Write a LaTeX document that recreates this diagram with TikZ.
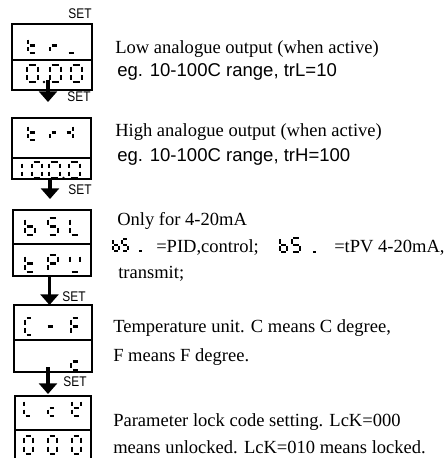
\documentclass[tikz,border=0pt]{standalone}
\usepackage{fontspec}
\setmainfont{Liberation Serif}
\setsansfont{Liberation Sans}
\usetikzlibrary{calc,arrows.meta}
\tikzset{
  boxline/.style={line width=1.5pt},
  dispbox/.style={draw, boxline, inner sep=0pt, outer sep=0pt, anchor=north west},
  segline/.style={line width=1.6pt},
  setarrow/.style={line width=2.6pt, -{Triangle[width=13.5pt,length=8pt]}},
  setlabel/.style={inner sep=0pt, font=\sffamily\fontsize{10.5pt}{10.5pt}\selectfont},
  desc/.style={anchor=base west, inner sep=0pt, font=\rmfamily\fontsize{13.9pt}{16pt}\selectfont},
  descsans/.style={anchor=base west, inner sep=0pt, font=\sffamily\fontsize{13.9pt}{16pt}\selectfont},
}
% seven segment helper: x0 y0 w h segments
\def\ssg{1.7}
\newcommand\sseg[5]{\def\ssx{#1}\def\ssy{#2}\def\ssw{#3}\def\ssh{#4}#5}
\newcommand\ssA{\draw[segline] ({\ssx+\ssg},{\ssy}) -- ({\ssx+\ssw-\ssg},{\ssy});}
\newcommand\ssB{\draw[segline] ({\ssx+\ssw},{\ssy+\ssg}) -- ({\ssx+\ssw},{\ssy+\ssh/2-\ssg});}
\newcommand\ssC{\draw[segline] ({\ssx+\ssw},{\ssy+\ssh/2+\ssg}) -- ({\ssx+\ssw},{\ssy+\ssh-\ssg});}
\newcommand\ssD{\draw[segline] ({\ssx+\ssg},{\ssy+\ssh}) -- ({\ssx+\ssw-\ssg},{\ssy+\ssh});}
\newcommand\ssE{\draw[segline] ({\ssx},{\ssy+\ssh/2+\ssg}) -- ({\ssx},{\ssy+\ssh-\ssg});}
\newcommand\ssF{\draw[segline] ({\ssx},{\ssy+\ssg}) -- ({\ssx},{\ssy+\ssh/2-\ssg});}
\newcommand\ssG{\draw[segline] ({\ssx+\ssg},{\ssy+\ssh/2}) -- ({\ssx+\ssw-\ssg},{\ssy+\ssh/2});}
\newcommand\ssDot[2]{\fill (#1,#2) circle (1.3);}
\newcommand\dbox[5]{\node[dispbox, minimum width={(#4-#2)*0.75pt}, minimum height={(#5-#3)*0.75pt}] (#1) at (#2,#3) {};}
\newcommand\divl[2]{\path (0,#2) coordinate (dv#1); \draw[boxline] (#1.west |- dv#1) -- (#1.east |- dv#1);}
\begin{document}
\begin{tikzpicture}[x=0.75pt,y=-0.75pt]
\useasboundingbox (0,0) rectangle (447,458);
\clip (0,0) rectangle (447,458);
\fill[white] (0,0) rectangle (447,458);

% display boxes
\dbox{b1}{12}{24}{92}{89.5}
\divl{b1}{59.5}
\dbox{b2}{12}{118}{91}{179}
\divl{b2}{158}
\dbox{b3}{13}{209.5}{91}{276}
\divl{b3}{244}
\dbox{b4}{14}{305}{92}{372}
\divl{b4}{339.5}
\dbox{b5}{15}{396}{91}{470}
\divl{b5}{429.5}

% box 1: tr_ / 0.00
\sseg{28}{38}{9}{15}{\ssD\ssE\ssF\ssG}
\sseg{50}{38}{9}{15}{\ssE\ssG}
\sseg{67}{38}{9}{15}{\ssD}
\sseg{27}{65}{11}{17}{\ssA\ssB\ssC\ssD\ssE\ssF}
\ssDot{44}{82}
\sseg{50}{65}{11}{17}{\ssA\ssB\ssC\ssD\ssE\ssF}
\sseg{71}{65}{11}{17}{\ssA\ssB\ssC\ssD\ssE\ssF}

% box 2: trH / 100.0
\sseg{28}{125}{9}{15}{\ssD\ssE\ssF\ssG}
\sseg{50}{125}{8}{15}{\ssE\ssG}
\sseg{65}{125}{8}{15}{\ssB\ssC\ssG}
\sseg{12}{162}{10}{16}{\ssB\ssC}
\sseg{32}{162}{10}{16}{\ssA\ssB\ssC\ssD\ssE\ssF}
\sseg{49}{162}{11}{16}{\ssA\ssB\ssC\ssD\ssE\ssF}
\ssDot{63.5}{178}
\sseg{69}{162}{11}{16}{\ssA\ssB\ssC\ssD\ssE\ssF}

% box 3: bSL / tPU
\sseg{25}{218}{10}{17}{\ssC\ssD\ssE\ssF\ssG}
\sseg{48}{218}{10}{17}{\ssA\ssF\ssG\ssC\ssD}
\sseg{70}{218}{10}{17}{\ssD\ssE\ssF}
\sseg{25}{255}{10}{17}{\ssD\ssE\ssF\ssG}
\sseg{48}{255}{10}{17}{\ssA\ssB\ssE\ssF\ssG}
\sseg{70}{255}{10}{17}{\ssB\ssF\ssD}

% box 4: C-F / c
\sseg{25}{318}{8}{17}{\ssA\ssD\ssE\ssF}
\sseg{46}{318}{9}{17}{\ssG}
\sseg{71}{318}{9}{17}{\ssA\ssE\ssF\ssG}
\sseg{71}{353}{9}{17}{\ssD\ssE\ssG}

% box 5: LcK / 000
\sseg{24}{400}{8}{16}{\ssD\ssE\ssF}
\sseg{48}{400}{8}{16}{\ssD\ssE\ssG}
\sseg{72}{400}{9}{16}{\ssB\ssD\ssE\ssF\ssG}
\sseg{24}{436}{9}{18}{\ssA\ssB\ssC\ssD\ssE\ssF}
\sseg{48}{436}{9}{18}{\ssA\ssB\ssC\ssD\ssE\ssF}
\sseg{72}{436}{9}{18}{\ssA\ssB\ssC\ssD\ssE\ssF}

% SET arrows
\draw[setarrow] ($(b1.south)+(-4,-9.5)$) -- ($(b2.north)+(-3.5,-16)$);
\draw[setarrow] ($(b2.south)+(-1.5,0)$) -- ($(b3.north)+(-2,-10.5)$);
\draw[setarrow] ($(b3.south)+(-2.5,0)$) -- ($(b4.north)+(-3.5,0)$);
\draw[setarrow] ($(b4.south)+(-5,-5)$) -- ($(b5.north)+(-5,-2)$);

% SET labels
\node[setlabel] (s0) at (80,14) {\scalebox{0.85}[1]{SET}};
\node[setlabel] (s1) at (79,97) {\scalebox{0.85}[1]{SET}};
\node[setlabel] (s2) at (80,190) {\scalebox{0.85}[1]{SET}};
\node[setlabel] (s3) at (74,297) {\scalebox{0.85}[1]{SET}};
\node[setlabel] (s4) at (75,382) {\scalebox{0.85}[1]{SET}};

% descriptions
\node[desc] (t1) at (115,53) {Low analogue output (when active)};
\node[descsans] (t2) at (117,76.5) {eg. 10-100C range, trL=10};
\node[desc] (t3) at (115,136) {High analogue output (when active)};
\node[descsans] (t4) at (117,161.5) {eg. 10-100C range, trH=100};
\node[desc] (t5) at (117,225) {Only for 4-20mA};
\def\ssg{1.0}
\tikzset{segline/.style={line width=1.4pt}}
\sseg{113}{239}{6}{12}{\ssC\ssD\ssE\ssF\ssG}
\sseg{122}{239}{6}{12}{\ssA\ssF\ssG\ssC\ssD}
\sseg{138}{239}{5}{12}{\ssD}
\node[desc] (t6) at (156,252.5) {=PID,control;};
\tikzset{segline/.style={line width=1.9pt}}
\sseg{280}{238}{7}{14}{\ssC\ssD\ssE\ssF\ssG}
\sseg{292}{238}{8}{14}{\ssA\ssF\ssG\ssC\ssD}
\sseg{312}{238}{5}{14}{\ssD}
\node[desc] (t7) at (334,252.5) {=tPV 4-20mA,};
\node[desc] (t8) at (118,278) {transmit;};
\node[desc] (t9) at (113,332.5) {Temperature unit. C means C degree,};
\node[desc] (t10) at (113,361) {F means F degree.};
\node[desc] (t11) at (113,426) {Parameter lock code setting. LcK=000};
\node[desc] (t12) at (113,453) {means unlocked. LcK=010 means locked.};
\end{tikzpicture}
\end{document}
